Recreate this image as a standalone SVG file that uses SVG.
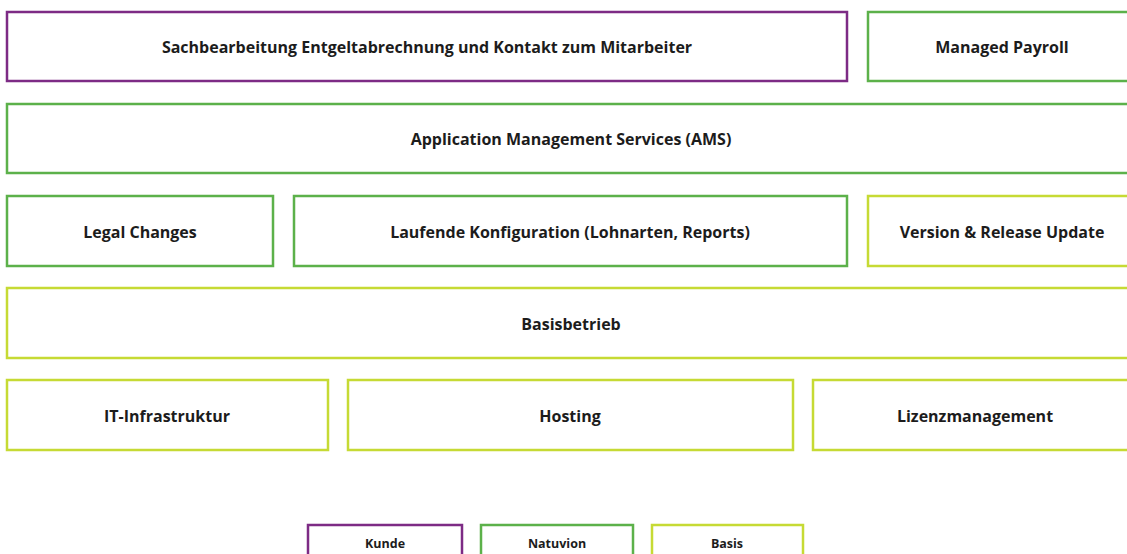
<svg xmlns="http://www.w3.org/2000/svg" width="1127" height="554" viewBox="0 0 1127 554">
<style>
rect{fill:#fff;stroke-width:2.5}
.k{stroke:#7d2b85}
.n{stroke:#5cb14a}
.b{stroke:#c6da34}
text{font-family:"Open Sans","Liberation Sans",sans-serif;font-weight:bold;fill:#1c1c1c;text-anchor:middle;dominant-baseline:central;font-size:16px}
.l{font-size:12.5px}
</style>
<rect x="0" y="0" width="1127" height="554" style="stroke:none"/>
<g id="sachbearbeitung"><rect class="k" x="7" y="12" width="840" height="69"/><text x="427" y="47">Sachbearbeitung Entgeltabrechnung und Kontakt zum Mitarbeiter</text></g>
<g id="managed-payroll"><rect class="n" x="868" y="12" width="268" height="69"/><text x="1002" y="47">Managed Payroll</text></g>
<g id="ams"><rect class="n" x="7" y="104" width="1129" height="69"/><text x="571" y="139">Application Management Services (AMS)</text></g>
<g id="legal"><rect class="n" x="7" y="196" width="266" height="70"/><text x="140" y="232">Legal Changes</text></g>
<g id="laufende"><rect class="n" x="294" y="196" width="553" height="70"/><text x="570" y="232">Laufende Konfiguration (Lohnarten, Reports)</text></g>
<g id="version"><rect class="b" x="868" y="196" width="268" height="70"/><text x="1002" y="232">Version &amp; Release Update</text></g>
<g id="basisbetrieb"><rect class="b" x="7" y="288" width="1129" height="70"/><text x="571" y="324">Basisbetrieb</text></g>
<g id="it"><rect class="b" x="7" y="380" width="321" height="70"/><text x="167" y="416">IT-Infrastruktur</text></g>
<g id="hosting"><rect class="b" x="348" y="380" width="445" height="70"/><text x="570" y="416">Hosting</text></g>
<g id="lizenz"><rect class="b" x="813" y="380" width="323" height="70"/><text x="975" y="416">Lizenzmanagement</text></g>
<g id="legend-kunde"><rect class="k" x="308" y="525" width="154" height="40"/><text class="l" x="385" y="543">Kunde</text></g>
<g id="legend-natuvion"><rect class="n" x="481" y="525" width="152" height="40"/><text class="l" x="557" y="543">Natuvion</text></g>
<g id="legend-basis"><rect class="b" x="652" y="525" width="151" height="40"/><text class="l" x="727" y="543">Basis</text></g>
<g id="connectors"></g>
</svg>
